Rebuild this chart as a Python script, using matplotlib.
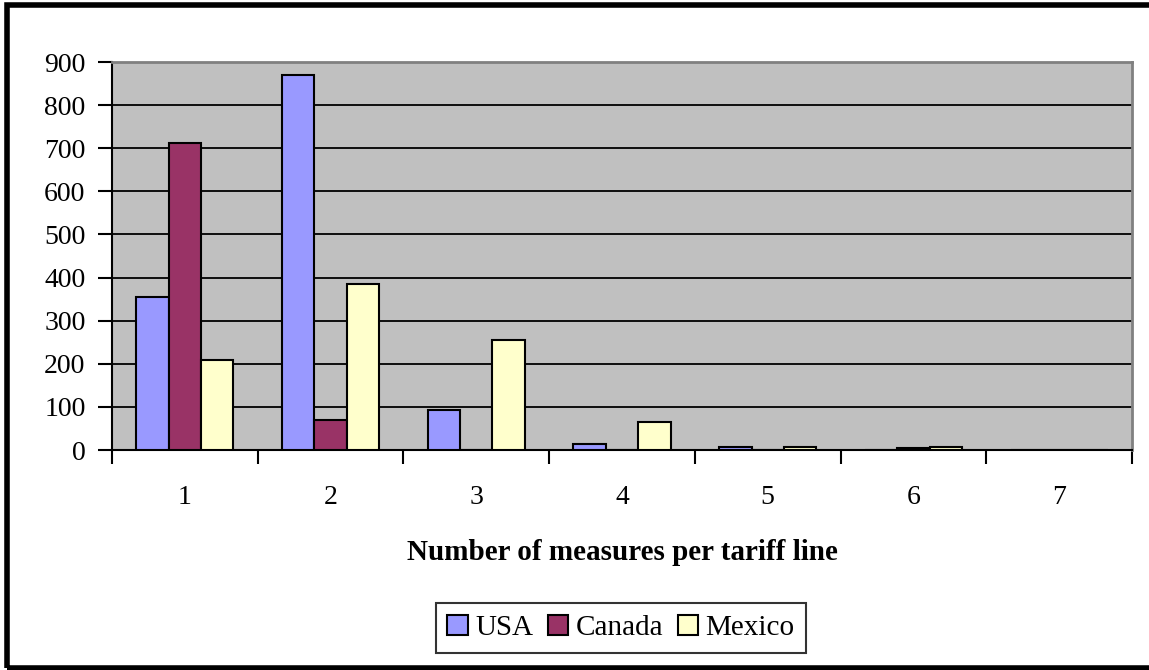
import matplotlib
matplotlib.use("Agg")
import matplotlib.pyplot as plt
import numpy as np
from matplotlib.patches import Rectangle

categories = ["1", "2", "3", "4", "5", "6", "7"]
usa = [355, 870, 93, 14, 8, 0, 0]
canada = [713, 70, 0, 0, 0, 4, 0]
mexico = [208, 386, 254, 66, 8, 8, 0]
series_names = ["USA", "Canada", "Mexico"]
colors = ["#9999FF", "#993366", "#FFFFCC"]
yticks = [0, 100, 200, 300, 400, 500, 600, 700, 800, 900]

plt.rcParams['font.family'] = ['Liberation Serif', 'DejaVu Serif']

fig = plt.figure(figsize=(11.49, 6.70), dpi=100)
ax = fig.add_axes([112/1149, 1-450/670, (1132-112)/1149, (450-62)/670])
ax.set_facecolor("#C0C0C0")

x = np.arange(len(categories))
w = 0.222
for i, (vals, name, c) in enumerate(zip([usa, canada, mexico], series_names, colors)):
    ax.bar(x + (i-1)*w, vals, width=w, color=c, edgecolor="black", linewidth=1.5,
           label=name, zorder=3)

ax.set_ylim(0, 900)
ax.set_xlim(-0.5, len(categories)-0.5)
ax.set_yticks(yticks)
ax.set_yticklabels([str(v) for v in yticks], fontsize=20)
ax.yaxis.grid(True, color="black", linewidth=1.3, zorder=1)
ax.set_axisbelow(True)

ax.set_xticks(np.arange(-0.5, len(categories), 1.0))
ax.set_xticklabels([])
ax.set_xticks(x, minor=True)
ax.set_xticklabels(categories, minor=True, fontsize=20)
ax.tick_params(axis='x', which='major', direction='out', length=10, width=1.5, color='black')
ax.tick_params(axis='x', which='minor', length=0, pad=25)
ax.tick_params(axis='y', direction='out', length=10, width=1.5, pad=9)

for s in ["left", "bottom"]:
    ax.spines[s].set_color("black")
    ax.spines[s].set_linewidth(1.5)
for s in ["top", "right"]:
    ax.spines[s].set_color("#808080")
    ax.spines[s].set_linewidth(2)

fig.text(622/1149, 1-552/670, "Number of measures per tariff line", ha="center", va="center",
         fontsize=21, fontweight="bold")

leg = fig.legend(loc="center", bbox_to_anchor=(621/1149, 1-628/670), ncol=3, fontsize=21,
                 frameon=True, fancybox=False, edgecolor="black", handlelength=0.7,
                 handleheight=0.7, handletextpad=0.25, columnspacing=0.5, borderpad=0.4)
leg.get_frame().set_linewidth(1.5)

fig.patches.append(Rectangle((7/1149, 2/670), 1.2, 1-7/670, transform=fig.transFigure,
                             fill=False, edgecolor="black", linewidth=4, zorder=10))

fig.savefig("out.png", dpi=100)
